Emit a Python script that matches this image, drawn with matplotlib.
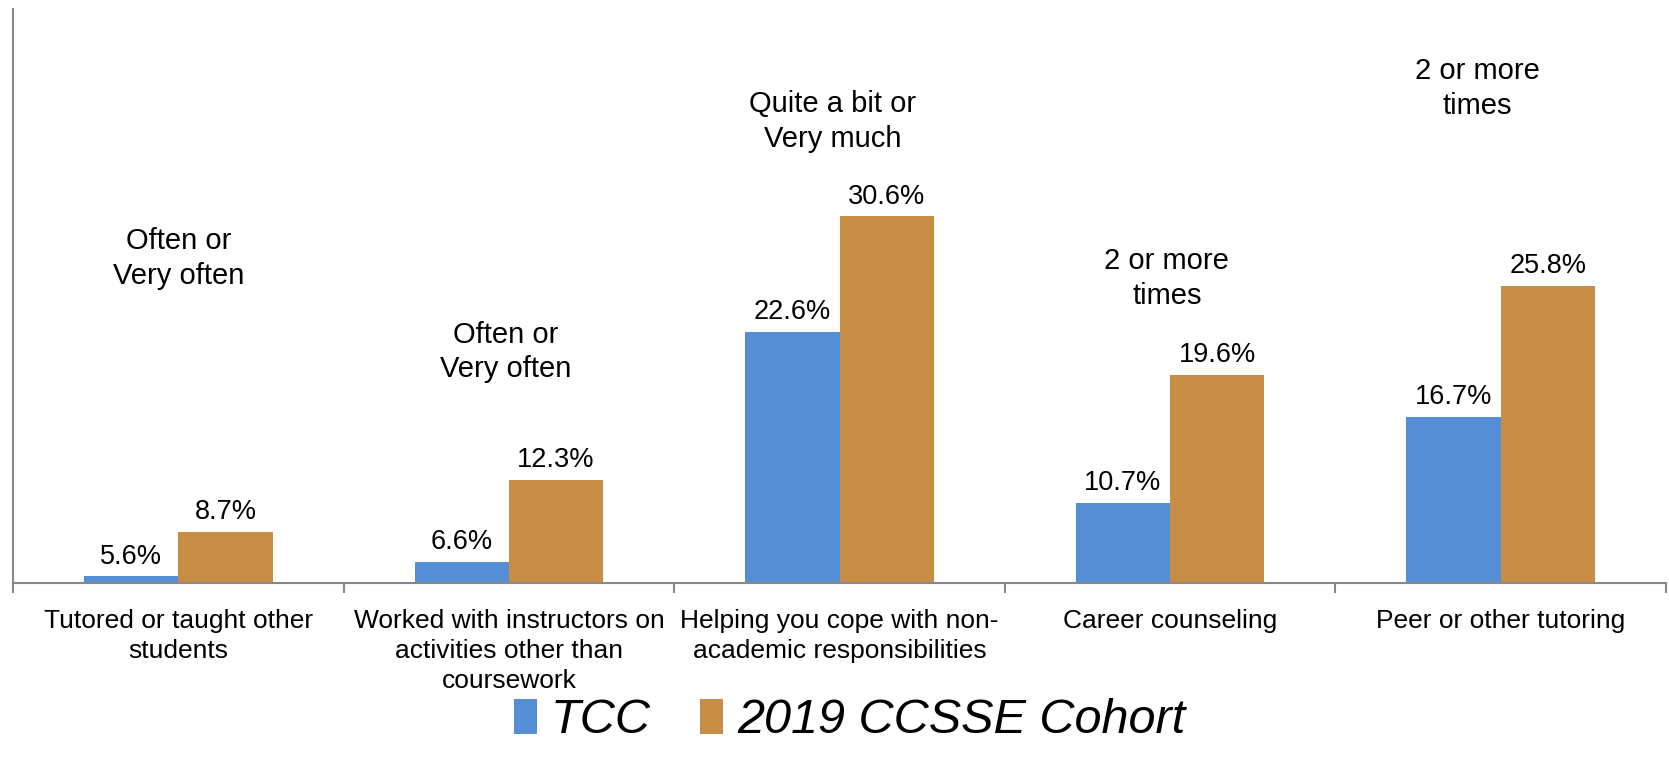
import matplotlib
matplotlib.use("Agg")
import matplotlib.pyplot as plt
import numpy as np

plt.rcParams["font.family"] = ["Liberation Sans", "DejaVu Sans"]

categories = [
    "Tutored or taught other\nstudents",
    "Worked with instructors on\nactivities other than\ncoursework",
    "Helping you cope with non-\nacademic responsibilities",
    "Career counseling",
    "Peer or other tutoring",
]
tcc = [5.6, 6.6, 22.6, 10.7, 16.7]
cohort = [8.7, 12.3, 30.6, 19.6, 25.8]
notes = [
    "Often or\nVery often",
    "Often or\nVery often",
    "Quite a bit or\nVery much",
    "2 or more\ntimes",
    "2 or more\ntimes",
]
note_x = [0.0, -0.01, -0.02, -0.01, -0.07]
note_y = [27.7, 21.2, 37.2, 26.3, 39.5]

blue = "#558ED5"
orange = "#C78D45"

fig = plt.figure(figsize=(16.69, 7.62), dpi=100)
ax = fig.add_axes([0.0078, 0.235, 0.9904, 0.753])

x = np.arange(len(categories))
w = 0.285
b1 = ax.bar(x - w / 2, tcc, w, color=blue, label="TCC", zorder=2)
b2 = ax.bar(x + w / 2, cohort, w, color=orange, label="2019 CCSSE Cohort", zorder=2)

ax.set_ylim(5.15, 45)
ax.set_xlim(-0.5, len(categories) - 0.5)

for bars, vals in [(b1, tcc), (b2, cohort)]:
    for r, v in zip(bars, vals):
        ax.annotate(f"{v:.1f}%", (r.get_x() + r.get_width() / 2, v),
                    xytext=(0, 5), textcoords="offset points",
                    ha="center", va="bottom", fontsize=19.5)

for i, t in enumerate(notes):
    ax.text(i + note_x[i], note_y[i], t, ha="center", va="center",
            fontsize=21, linespacing=1.3)

for s in ["top", "right"]:
    ax.spines[s].set_visible(False)
for s in ["left", "bottom"]:
    ax.spines[s].set_color("#888888")
    ax.spines[s].set_linewidth(1.5)

ax.set_yticks([])
ax.set_xticks(x)
ax.set_xticklabels(categories, fontsize=19, linespacing=1.3)
ax.tick_params(axis="x", which="major", length=0, pad=19)
ax.set_xticks(np.arange(-0.5, len(categories)), minor=True)
ax.tick_params(axis="x", which="minor", length=7, width=1.5, color="#888888")

fig.legend(handles=[b1, b2], loc="center", bbox_to_anchor=(0.509, 0.054),
           ncol=2, frameon=False, prop={"size": 35, "style": "italic"},
           handlelength=0.48, handleheight=0.72, handletextpad=0.29,
           columnspacing=1.0)

fig.savefig("out.png", dpi=100)
